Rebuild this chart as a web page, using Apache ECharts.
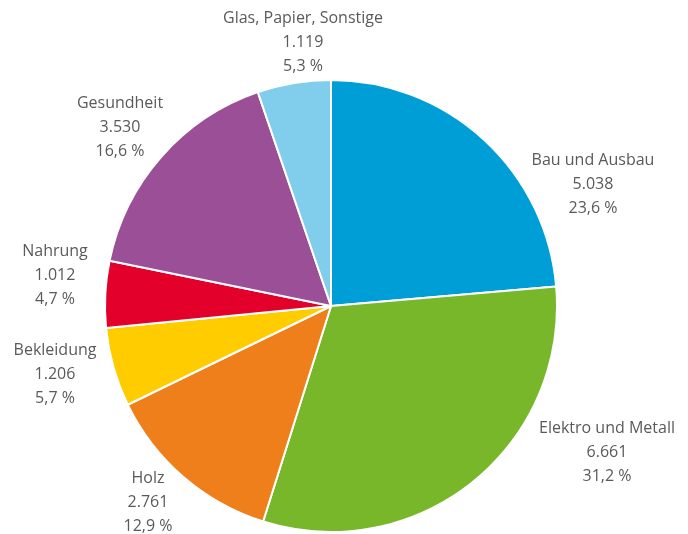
<!DOCTYPE html>
<html><head><meta charset="utf-8">
<script src="https://cdn.jsdelivr.net/npm/echarts@6/dist/echarts.min.js"></script>
<style>html,body{margin:0;padding:0;background:#fff}#c{width:688px;height:534px}</style>
</head><body><div id="c"></div>
<script>
const categories = ['Bau und Ausbau','Elektro und Metall','Holz','Bekleidung','Nahrung','Gesundheit','Glas, Papier, Sonstige'];
const values = [5038, 6661, 2761, 1206, 1012, 3530, 1119];
const colors = ['#009ED6','#78B62A','#EE7F1B','#FFCC00','#E3002B','#9B4F96','#80CEEC'];
// label anchor positions (centre of text block)
const labelPos = [[593,184],[607,452],[148,502],[55,374],[55,275],[120,127],[303,42]];

function fmtNum(v){return String(v).replace(/\B(?=(\d{3})+(?!\d))/g,'.');}
function fmtPct(p){return p.toFixed(1).replace('.',',')+' %';}

const chart = echarts.init(document.getElementById('c'));
chart.setOption({
  animation:false,
  series:[{
    type:'pie',
    center:[331,306],
    radius:226,
    startAngle:90,
    clockwise:true,
    percentPrecision:1,
    itemStyle:{borderColor:'#fff',borderWidth:2},
    label:{
      show:true,position:'inside',
      formatter:p=>p.name+'\n'+fmtNum(p.value)+'\n'+fmtPct(p.percent),
      fontFamily:'Open Sans',fontSize:16,color:'#5a5a5a',lineHeight:24,align:'center',
      overflow:'none'
    },
    labelLine:{show:false},
    labelLayout:function(p){const pos=labelPos[p.dataIndex];return {x:pos[0],y:pos[1],align:'center',verticalAlign:'middle'};},
    emphasis:{disabled:true},
    data:categories.map((n,i)=>({name:n,value:values[i],itemStyle:{color:colors[i]}}))
  }]
});
</script></body></html>
